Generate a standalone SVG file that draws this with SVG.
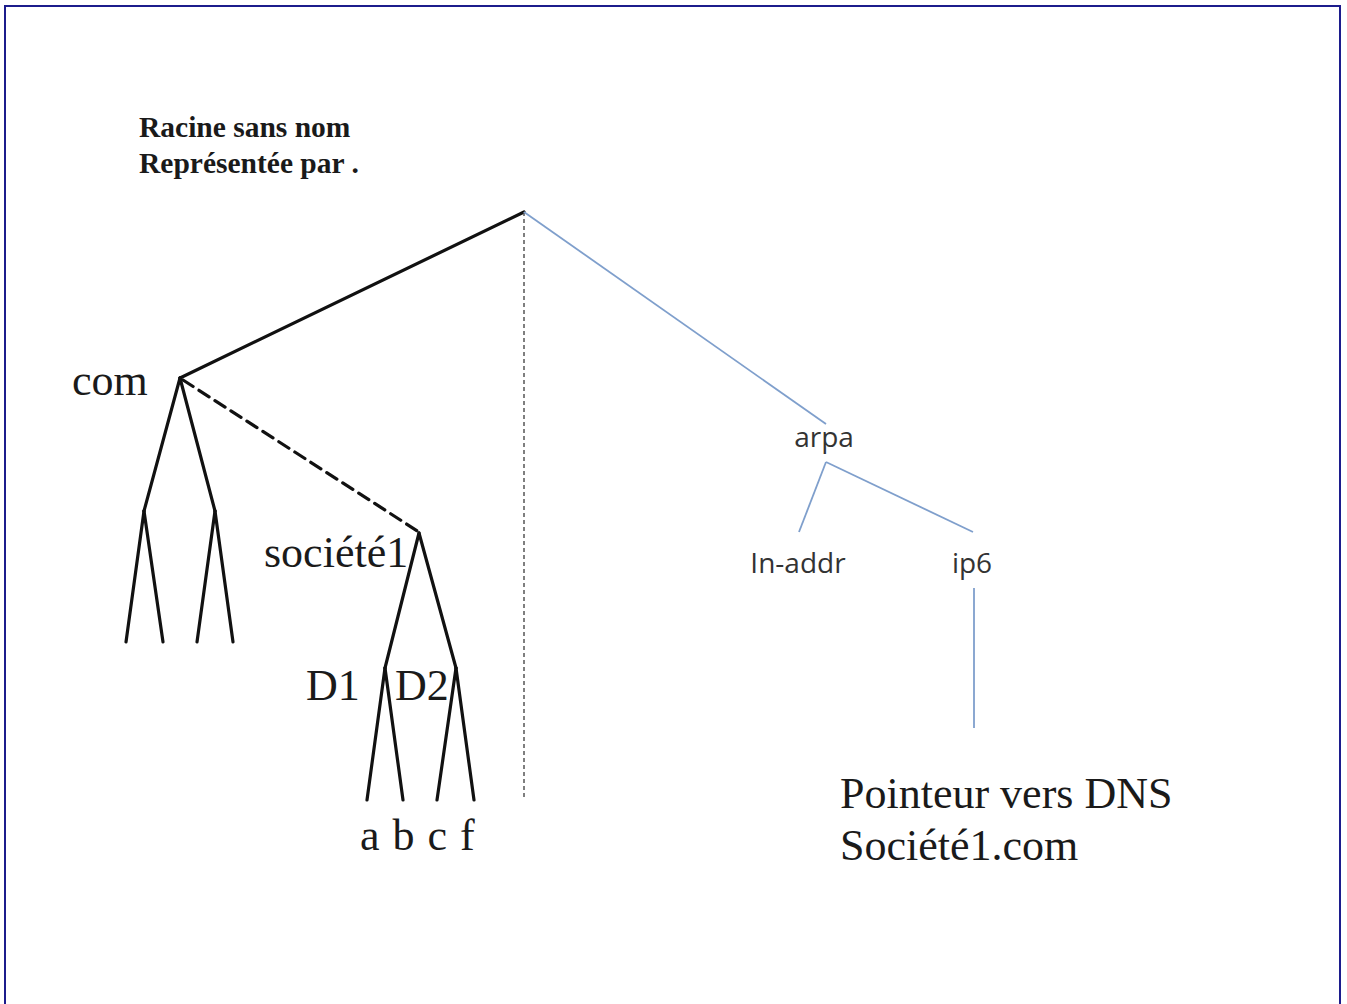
<svg xmlns="http://www.w3.org/2000/svg" width="1347" height="1004" viewBox="0 0 1347 1004">
<style>
.serif{font-family:"Liberation Serif","Times New Roman",serif;fill:#1a1a1a}
.big{font-size:44px}
.title{font-size:29.5px;font-weight:bold}
.sans{font-family:"Open Sans","Liberation Sans",sans-serif;font-size:28px;fill:#333}
.blk{stroke:#111;stroke-width:3.2;fill:none;stroke-linecap:round}
.blue{stroke:#7f9fcc;stroke-width:1.8;fill:none}
</style>
<rect x="5" y="6" width="1335" height="1010" fill="#fff" stroke="#1c1c8c" stroke-width="2"/>
<g id="connectors">
<line class="blk" x1="524" y1="212" x2="180" y2="378"/>
<line x1="524" y1="212" x2="524" y2="798" stroke="#555" stroke-width="1.5" stroke-dasharray="4,3"/>
<line class="blue" x1="524" y1="212" x2="826" y2="424"/>
<line class="blk" x1="180" y1="378" x2="144" y2="511"/>
<line class="blk" x1="180" y1="378" x2="215" y2="511"/>
<line class="blk" x1="144" y1="511" x2="126" y2="642"/>
<line class="blk" x1="144" y1="511" x2="163" y2="642"/>
<line class="blk" x1="215" y1="511" x2="197" y2="642"/>
<line class="blk" x1="215" y1="511" x2="233" y2="642"/>
<line class="blk" x1="183" y1="380" x2="419" y2="532" stroke-dasharray="12,7" stroke-linecap="butt"/>
<line class="blk" x1="419" y1="533" x2="385" y2="668"/>
<line class="blk" x1="419" y1="533" x2="456" y2="668"/>
<line class="blk" x1="385" y1="668" x2="367" y2="800"/>
<line class="blk" x1="385" y1="668" x2="403" y2="800"/>
<line class="blk" x1="456" y1="668" x2="437" y2="800"/>
<line class="blk" x1="456" y1="668" x2="474" y2="800"/>
<line class="blue" x1="826" y1="462" x2="799" y2="532"/>
<line class="blue" x1="826" y1="462" x2="973" y2="532"/>
<line class="blue" x1="974" y1="588" x2="974" y2="728"/>
</g>
<g id="root"><text class="serif title" x="139" y="137">Racine sans nom</text><text class="serif title" x="139" y="173">Représentée par .</text></g>
<g id="com"><text class="serif big" x="72" y="395">com</text></g>
<g id="societe1"><text class="serif big" x="264" y="567">société1</text></g>
<g id="D1"><text class="serif big" x="306" y="700">D1</text></g>
<g id="D2"><text class="serif big" x="395" y="700">D2</text></g>
<g id="leaves"><text class="serif big" x="360" y="850" letter-spacing="1">a b c f</text></g>
<g id="arpa"><text class="sans" x="824" y="447" text-anchor="middle">arpa</text></g>
<g id="in-addr"><text class="sans" x="798" y="573" text-anchor="middle">In-addr</text></g>
<g id="ip6"><text class="sans" x="972" y="573" text-anchor="middle">ip6</text></g>
<g id="pointeur"><text class="serif big" x="840" y="808">Pointeur vers DNS</text><text class="serif big" x="840" y="860">Société1.com</text></g>
</svg>
